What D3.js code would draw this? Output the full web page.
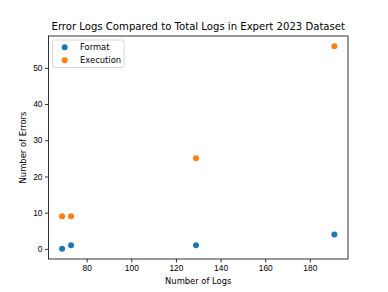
<!DOCTYPE html>
<html>
<head>
<meta charset="utf-8">
<script src="https://cdn.jsdelivr.net/npm/d3@7"></script>
<style>
  body { margin: 0; background: #fff; }
  svg { display: block; font-family: "DejaVu Sans", sans-serif; }
  .axis text { font-size: 8.4px; fill: #000; }
  .axis line, .axis path { stroke: #000; stroke-width: 0.8; }
</style>
</head>
<body>
<svg id="chart" width="388" height="292"></svg>
<script>
// Data
const LOG_COUNTS = [69, 73, 129, 191];
const FORMAT_ERRORS = [0, 1, 1, 4];
const EXECUTION_ERRORS = [9, 9, 25, 56];
const SERIES_NAMES = ["Format", "Execution"];
const SERIES_COLORS = ["#1f77b4", "#ff7f0e"];
const X_TICKS = [80, 100, 120, 140, 160, 180];
const Y_TICKS = [0, 10, 20, 30, 40, 50];

const MARGIN = { top: 36, right: 40, bottom: 33, left: 48.5 };
const W = 388, H = 292;
const innerW = W - MARGIN.left - MARGIN.right;
const innerH = H - MARGIN.top - MARGIN.bottom;

const svg = d3.select("#chart");
const g = svg.append("g").attr("transform", `translate(${MARGIN.left},${MARGIN.top})`);

// matplotlib-style 5% margins
const xMin = d3.min(LOG_COUNTS), xMax = d3.max(LOG_COUNTS);
const allY = FORMAT_ERRORS.concat(EXECUTION_ERRORS);
const yMin = d3.min(allY), yMax = d3.max(allY);
const xPad = (xMax - xMin) * 0.05, yPad = (yMax - yMin) * 0.05;

const x = d3.scaleLinear().domain([xMin - xPad, xMax + xPad]).range([0, innerW]);
const y = d3.scaleLinear().domain([yMin - yPad, yMax + yPad]).range([innerH, 0]);

// Axes
g.append("g").attr("class", "axis")
  .attr("transform", `translate(0,${innerH})`)
  .call(d3.axisBottom(x).tickValues(X_TICKS).tickSize(3.5).tickPadding(2.5))
  .call(s => s.select(".domain").remove());

g.append("g").attr("class", "axis")
  .call(d3.axisLeft(y).tickValues(Y_TICKS).tickSize(3.5).tickPadding(2.5))
  .call(s => s.select(".domain").remove());

// frame
g.append("rect")
  .attr("width", innerW).attr("height", innerH)
  .attr("fill", "none").attr("stroke", "#000").attr("stroke-width", 0.8);

// Points
const series = [FORMAT_ERRORS, EXECUTION_ERRORS];
series.forEach((vals, i) => {
  g.append("g").selectAll("circle")
    .data(vals.map((v, j) => ({ x: LOG_COUNTS[j], y: v })))
    .join("circle")
    .attr("cx", d => x(d.x))
    .attr("cy", d => y(d.y))
    .attr("r", 3)
    .attr("fill", SERIES_COLORS[i]);
});

// Title & labels
svg.append("text")
  .attr("x", MARGIN.left + innerW / 2).attr("y", 30)
  .attr("text-anchor", "middle").attr("font-size", 10.1)
  .text("Error Logs Compared to Total Logs in Expert 2023 Dataset");

svg.append("text")
  .attr("x", MARGIN.left + innerW / 2).attr("y", 284)
  .attr("text-anchor", "middle").attr("font-size", 8.4)
  .text("Number of Logs");

svg.append("text")
  .attr("transform", `translate(26,${MARGIN.top + innerH / 2}) rotate(-90)`)
  .attr("text-anchor", "middle").attr("font-size", 8.4)
  .text("Number of Errors");

// Legend
const leg = svg.append("g").attr("transform", "translate(52.5,40)");
leg.append("rect")
  .attr("width", 71.5).attr("height", 27.5).attr("rx", 2)
  .attr("fill", "#fff").attr("fill-opacity", 0.8)
  .attr("stroke", "#ccc").attr("stroke-width", 0.8);
SERIES_NAMES.forEach((name, i) => {
  leg.append("circle")
    .attr("cx", 12.2).attr("cy", 7.3 + i * 13)
    .attr("r", 3).attr("fill", SERIES_COLORS[i]);
  leg.append("text")
    .attr("x", 27.5).attr("y", 7.3 + i * 13)
    .attr("dy", "0.35em").attr("font-size", 8.4)
    .text(name);
});
</script>
</body>
</html>
